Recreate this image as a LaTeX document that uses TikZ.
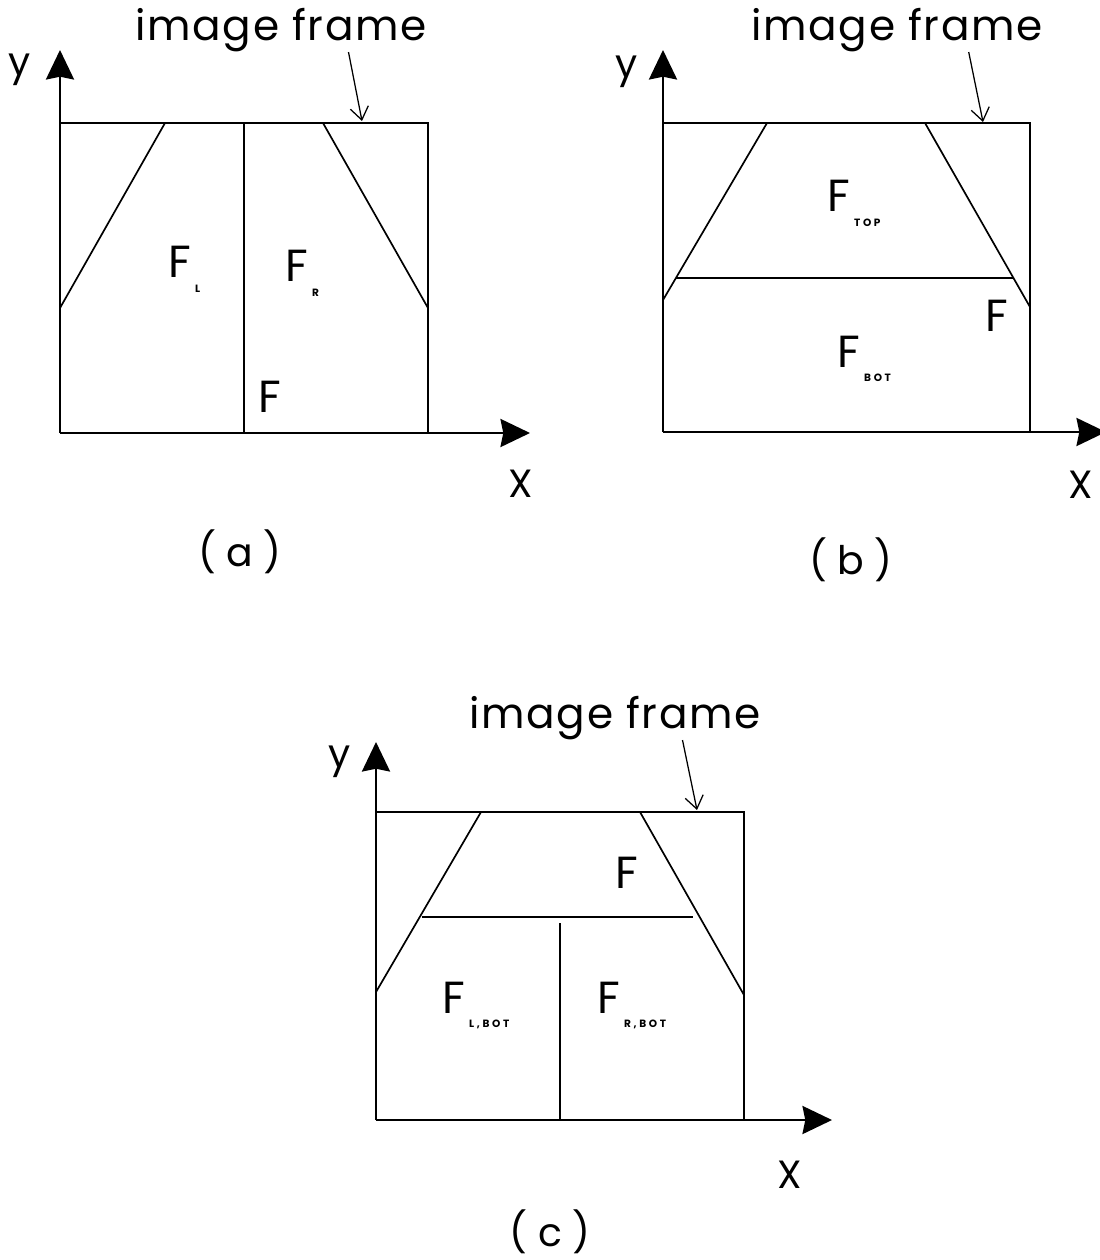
\documentclass[tikz,border=0pt]{standalone}
\usepackage{fontspec}
\setmainfont{Poppins}
\newfontfamily\subfont[LetterSpace=25]{Poppins}
\usetikzlibrary{arrows.meta}

\newcommand{\Fsub}[1]{F\hspace{3pt}\raisebox{-10pt}{\fontsize{7.5}{8}\subfont\bfseries #1}}

\begin{document}
\begin{tikzpicture}[x=0.025cm,y=-0.025cm,
    frame/.style={line width=1.5pt},
    slant/.style={line width=1.2pt},
    axis/.style={line width=1.5pt,-{Stealth[length=21pt,width=20pt,inset=2pt]}},
    pointer/.style={line width=0.9pt,-{Straight Barb[length=9pt,width=13pt]}},
    lbl/.style={font=\fontsize{28}{30}\selectfont,inner sep=0pt},
    frmlbl/.style={font=\fontsize{30}{32}\selectfont\addfontfeature{LetterSpace=4},inner sep=0pt},
    flbl/.style={font=\fontsize{32}{34}\selectfont,anchor=base west,inner sep=0pt}]
    \useasboundingbox (0,0) rectangle (1099,1260);

    % (a)
    \draw[axis] (60,433) -- (60,50);
    \draw[axis] (60,433) -- (530,433);
    \draw[frame] (60,123) -- (428,123) -- (428,433);
    \draw[frame] (244,123) -- (244,433);
    \draw[slant] (165,123) -- (60,308);
    \draw[slant] (323,123) -- (428,308);
    \node[frmlbl] (frmA) at (281,30) {image frame};
    \coordinate (tipA) at (362,121);
    \draw[pointer] ([xshift=48pt]frmA.south) -- (tipA);
    \node[lbl] (ya) at (20,70) {y};
    \node[lbl] (xa) at (521,484) {X};
    \node[lbl] (capa) at (240,552) {( a )};
    \node[flbl] (fl) at (168,278) {\Fsub{L}};
    \node[flbl] (fr) at (285,282) {\Fsub{R}};
    \node[flbl] (fa) at (258,412) {F};

    % (b)
    \draw[axis] (663,432) -- (663,50);
    \draw[axis] (663,432) -- (1106,432);
    \draw[frame] (663,123) -- (1030,123) -- (1030,432);
    \draw[slant] (767,123) -- (663,300);
    \draw[slant] (925,123) -- (1030,307);
    \draw[frame] (676,278) -- (1013,278);
    \node[frmlbl] (frmB) at (897,30) {image frame};
    \coordinate (tipB) at (983,122);
    \draw[pointer] ([xshift=51pt]frmB.south) -- (tipB);
    \node[lbl] (yb) at (627,72) {y};
    \node[lbl] (xb) at (1081,485) {X};
    \node[lbl] (capb) at (851,560) {( b )};
    \node[flbl] (ftop) at (827,212) {\Fsub{TOP}};
    \node[flbl] (fb) at (985,332) {F};
    \node[flbl] (fbot) at (837,367) {\Fsub{BOT}};

    % (c)
    \draw[axis] (376,1120) -- (376,742);
    \draw[axis] (376,1120) -- (832,1120);
    \draw[frame] (376,812) -- (744,812) -- (744,1120);
    \draw[slant] (481,812) -- (376,992);
    \draw[slant] (640,812) -- (744,995);
    \draw[frame] (422,917) -- (693,917);
    \draw[frame] (560,923) -- (560,1120);
    \node[frmlbl] (frmC) at (615,718) {image frame};
    \coordinate (tipC) at (697,810);
    \draw[pointer] ([xshift=48pt]frmC.south) -- (tipC);
    \node[lbl] (yc) at (340,762) {y};
    \node[lbl] (xc) at (790,1175) {X};
    \node[lbl] (capc) at (550,1232) {( c )};
    \node[flbl] (fc) at (615,888) {F};
    \node[flbl] (flb) at (442,1013) {\Fsub{L,BOT}};
    \node[flbl] (frb) at (597,1013) {\Fsub{R,BOT}};
\end{tikzpicture}
\end{document}
